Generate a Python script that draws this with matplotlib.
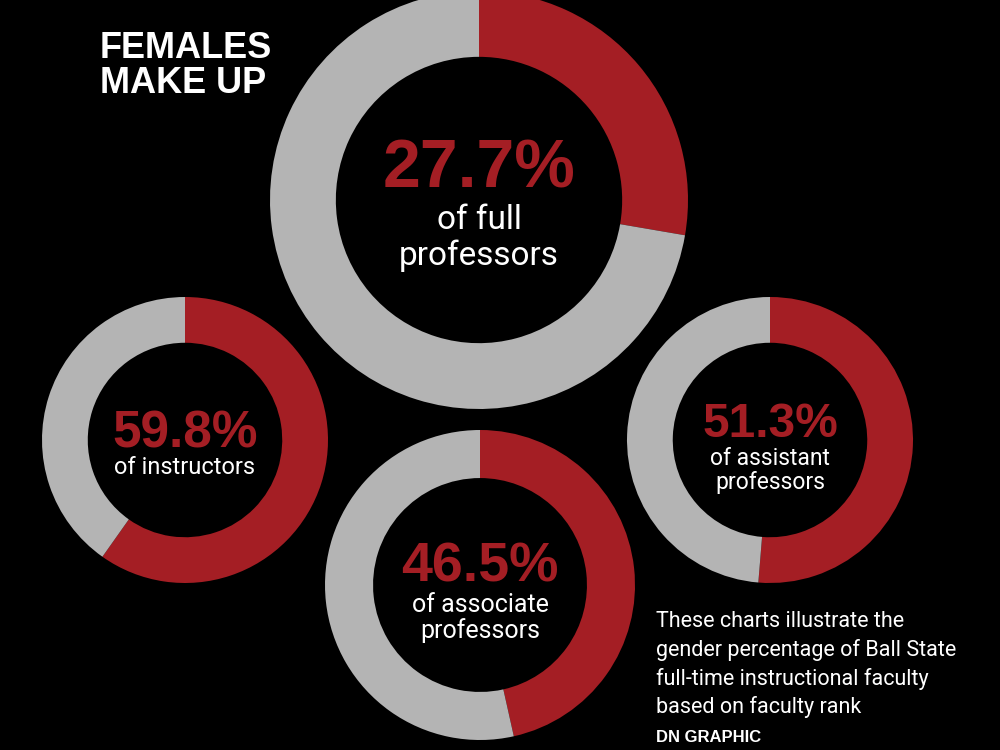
import matplotlib
matplotlib.use("Agg")
import matplotlib.pyplot as plt

# data
ranks = ["full professors", "instructors", "assistant professors", "associate professors"]
female_pct = [27.7, 59.8, 51.3, 46.5]
pct_labels = ["27.7%", "59.8%", "51.3%", "46.5%"]
sub_labels = [["of full", "professors"],
              ["of instructors"],
              ["of assistant", "professors"],
              ["of associate", "professors"]]

title_lines = ["FEMALES", "MAKE UP"]
note_lines = ["These charts illustrate the",
              "gender percentage of Ball State",
              "full-time instructional faculty",
              "based on faculty rank"]
credit = "DN GRAPHIC"

# layout (pixel positions, y measured from top)
centers = [(479, 200), (185, 440), (770, 440), (480, 585)]
radii = [209, 143, 143, 155]
ring_frac = [0.315, 0.32, 0.32, 0.31]
num_size = [49, 37, 34.5, 40]
num_base = [188, 447, 437, 582]
sub_size = [24, 17, 16.5, 18]
sub_base = [[229, 265], [474], [465, 489], [612, 638]]

RED = "#a41e24"
GRAY = "#b4b4b4"
H = 750

fig = plt.figure(figsize=(10, 7.5), dpi=100, facecolor="black")
ax = fig.add_axes([0, 0, 1, 1])
ax.set_facecolor("black")

for i, pct in enumerate(female_pct):
    cx, cy = centers[i]
    r = radii[i]
    ax.pie([pct, 100 - pct], colors=[RED, GRAY], startangle=90, counterclock=False,
           radius=r, center=(cx, H - cy),
           wedgeprops=dict(width=r * ring_frac[i], linewidth=0))
    ax.text(cx, H - num_base[i], pct_labels[i], color=RED, fontsize=num_size[i],
            fontweight="bold", family=["Liberation Sans", "DejaVu Sans"],
            ha="center", va="baseline")
    for line, yb in zip(sub_labels[i], sub_base[i]):
        ax.text(cx, H - yb, line, color="white", fontsize=sub_size[i],
                fontweight="normal", family=["Roboto", "DejaVu Sans"],
                ha="center", va="baseline")

# title
for line, yb in zip(title_lines, [58, 93]):
    ax.text(100, H - yb, line, color="white", fontsize=26, fontweight="bold",
            family=["Liberation Sans", "DejaVu Sans"], ha="left", va="baseline")

# footnote
for line, yb in zip(note_lines, [627, 656, 685, 713]):
    ax.text(656, H - yb, line, color="white", fontsize=15.5, fontweight="normal",
            family=["Roboto", "DejaVu Sans"], ha="left", va="baseline")
ax.text(656, H - 742, credit, color="white", fontsize=12, fontweight="bold",
        family=["Liberation Sans", "DejaVu Sans"], ha="left", va="baseline")

ax.set_xlim(0, 1000)
ax.set_ylim(0, H)
ax.set_aspect("equal")
ax.axis("off")

fig.savefig("out.png", dpi=100, facecolor="black")
